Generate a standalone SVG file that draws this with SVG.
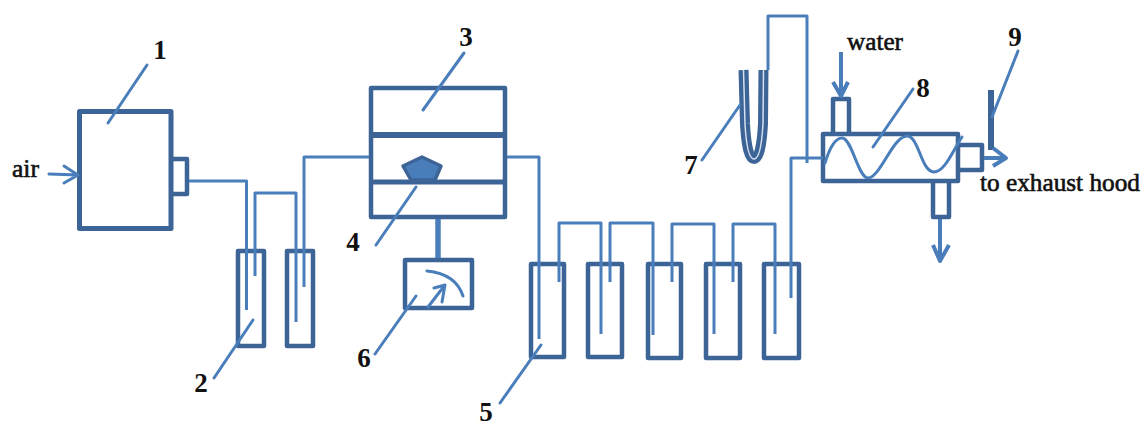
<svg xmlns="http://www.w3.org/2000/svg" width="1142" height="428" viewBox="0 0 1142 428">
<defs>
<style>
.d{fill:none;stroke:#3c6496;stroke-width:4.5;stroke-linejoin:round}
.p{fill:none;stroke:#4a7ebb;stroke-width:3;stroke-linejoin:round}
.l{fill:none;stroke:#4a7ebb;stroke-width:3;stroke-linecap:round;stroke-linejoin:round}
.a{fill:none;stroke:#4a7ebb;stroke-width:4;stroke-linejoin:round}
text{font-family:"Liberation Serif","Times New Roman",serif;font-size:25px;fill:#111}
.t{stroke:#111;stroke-width:.6}
.n{font-weight:bold;text-anchor:middle;font-size:27px}
</style>
</defs>
<rect width="1142" height="428" fill="#fff"/>
<g id="node-1">
<rect class="d" x="79.500" y="111.500" width="91.500" height="117" style="stroke-width:5"/>
<path class="d" d="M173 159H187V194H173"/>
</g>
<g id="node-2">
<rect class="d" x="238" y="251" width="26" height="95"/>
<rect class="d" x="287" y="251" width="26" height="95"/>
</g>
<g id="node-3">
<rect class="d" x="371" y="88" width="134" height="129"/>
<path class="d" d="M371 135H505" style="stroke-width:6"/>
<path class="d" d="M371 182H505" style="stroke-width:5"/>
</g>
<g id="node-4">
<polygon points="422,157 441,166 435,180 411,180 403,166" fill="#4a7ebb" stroke="#3c6496" stroke-width="3.500" stroke-linejoin="round"/>
</g>
<g id="node-5">
<rect class="d" x="531" y="264" width="33" height="93"/>
<rect class="d" x="588" y="264" width="34" height="93"/>
<rect class="d" x="648" y="264" width="33" height="94"/>
<rect class="d" x="706" y="264" width="34" height="94"/>
<rect class="d" x="764" y="264" width="35" height="94"/>
</g>
<g id="node-6">
<rect class="d" x="405" y="260" width="67" height="48"/>
<path class="l" d="M427 271Q456 274 463 296"/>
<path class="l" d="M428 307L445 285M434 288L445 285L442 302"/>
</g>
<g id="node-7">
<path d="M743.500 70L745 124Q747 159 754 159Q761 159 763 124L763.500 70" fill="none" stroke="#3c6496" stroke-width="10"/>
<path d="M743.500 70L745 124Q747 159 754 159Q761 159 763 124L763.500 70" fill="none" stroke="#d5e1f0" stroke-width="1.500"/>
</g>
<g id="node-8">
<path class="d" d="M833 132V99H849V132"/>
<path class="d" d="M933 183V217H949V183"/>
<rect class="d" x="823" y="134" width="135" height="47"/>
<path class="d" d="M960 145H982V170H960"/>
<path class="l" d="M825 163C829 150 835 138 842 138C852 138 858 178 868 178C880 178 893 136 907 136C919 136 921 172 934 172C945 172 953 150 962 137"/>
</g>
<g id="node-9">
<path d="M991 90V150" stroke="#3c6496" stroke-width="6" fill="none"/>
</g>
<g id="connectors">
<path class="p" d="M189 181H246.500V310"/>
<path class="p" d="M255 276V193H296V322"/>
<path class="p" d="M304 287V157H369"/>
<path class="p" d="M507 157H539V339"/>
<path d="M438 219V258" stroke="#4a7ebb" stroke-width="5.500" fill="none"/>
<path class="p" d="M559 282V223H601V334"/>
<path class="p" d="M610 282V223H653V335"/>
<path class="p" d="M672 282V224H714V334"/>
<path class="p" d="M733 282V224H775V334"/>
<path class="p" d="M791 298V158H823"/>
<path class="p" d="M807 163V16H768V70"/>
<path class="l" d="M49 174L78 175M64 166L78 175L64 183"/>
<path class="a" d="M841 52V96M833 82L841 96L848 82"/>
<path class="a" d="M940 219V261M933 245L940 261L949 245"/>
<path class="a" d="M984 158H1006M993 148L1006 158L993 166"/>
</g>
<g id="leaders">
<path class="l" d="M147 65L108 123"/>
<path class="l" d="M253 320L214 378"/>
<path class="l" d="M464 53L423 110"/>
<path class="l" d="M416 187L376 245"/>
<path class="l" d="M541 345L500 403"/>
<path class="l" d="M416 296L375 354"/>
<path class="l" d="M740 105L702 160"/>
<path class="l" d="M913 89L873 147"/>
<path class="l" d="M1018 51L992 117"/>
</g>
<g id="labels">
<text class="n" x="160" y="59">1</text>
<text class="n" x="201" y="392">2</text>
<text class="n" x="466" y="46">3</text>
<text class="n" x="353" y="251">4</text>
<text class="n" x="486" y="421">5</text>
<text class="n" x="364" y="367">6</text>
<text class="n" x="691" y="174">7</text>
<text class="n" x="923" y="97">8</text>
<text class="n" x="1015" y="46">9</text>
<text class="t" x="12" y="177" textLength="27" lengthAdjust="spacingAndGlyphs">air</text>
<text class="t" x="847" y="50" textLength="56" lengthAdjust="spacingAndGlyphs">water</text>
<text class="t" x="980" y="191" textLength="160" lengthAdjust="spacingAndGlyphs">to exhaust hood</text>
</g>
</svg>
